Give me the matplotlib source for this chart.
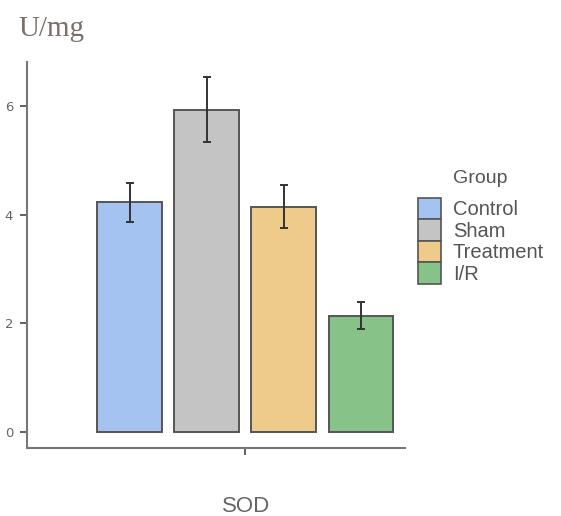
import matplotlib
matplotlib.use("Agg")
import matplotlib.pyplot as plt
from matplotlib.patches import Patch

groups = ["Control", "Sham", "Treatment", "I/R"]
values = [4.23, 5.93, 4.15, 2.14]
errors = [0.36, 0.60, 0.40, 0.25]
colors = ["#A5C3F0", "#C4C4C4", "#EFCB8B", "#87C288"]
yticks = [0, 2, 4, 6]

W, H = 561, 516
fig = plt.figure(figsize=(W / 100, H / 100), dpi=100)
ax = fig.add_axes([27 / W, 1 - 448 / H, (405 - 27) / W, (448 - 62) / H])

pos = list(range(len(groups)))
ax.bar(pos, values, width=0.84, color=colors, edgecolor="#555555", linewidth=1.4, zorder=2)
ax.errorbar(pos, values, yerr=errors, fmt="none", ecolor="#333333", elinewidth=1.4,
            capsize=3.2, capthick=1.4, zorder=3)

ax.set_xlim(-1.33, 3.57)
ax.set_ylim(-0.294, 6.81)
ax.set_yticks(yticks)
ax.set_yticklabels([str(t) for t in yticks])
ax.set_xticks([1.5])
ax.set_xticklabels([""])
for s in ["top", "right"]:
    ax.spines[s].set_visible(False)
for s in ["left", "bottom"]:
    ax.spines[s].set_color("#777777")
    ax.spines[s].set_linewidth(1.5)
ax.tick_params(axis="both", colors="#555555", length=5, width=1.3, labelsize=9.5, pad=5)
ax.tick_params(axis="y", labelcolor="#666666")

fig.text(246 / W, 1 - 512 / H, "SOD", fontsize=16, color="#666666",
         family="Liberation Sans", ha="center", va="baseline")
fig.text(18 / W, 1 - 36 / H, "U/mg", fontsize=21, color="#7a6f6b", family="Liberation Serif",
         ha="left", va="baseline")

fig.text(453 / W, 1 - 183 / H, "Group", fontsize=14, color="#555555",
         family="Liberation Sans", ha="left", va="baseline")
handles = [Patch(facecolor=c, edgecolor="#555555", linewidth=1.2) for c in colors]
leg = fig.legend(handles, groups, loc="upper left", bbox_to_anchor=(418 / W, 1 - 198 / H),
                 frameon=False, labelspacing=0, handlelength=1.13, handleheight=1.25,
                 handletextpad=0.6, borderaxespad=0, borderpad=0,
                 prop={"family": "Liberation Sans", "size": 14.5})
for t in leg.get_texts():
    t.set_color("#555555")

fig.savefig("out.png", dpi=100)
